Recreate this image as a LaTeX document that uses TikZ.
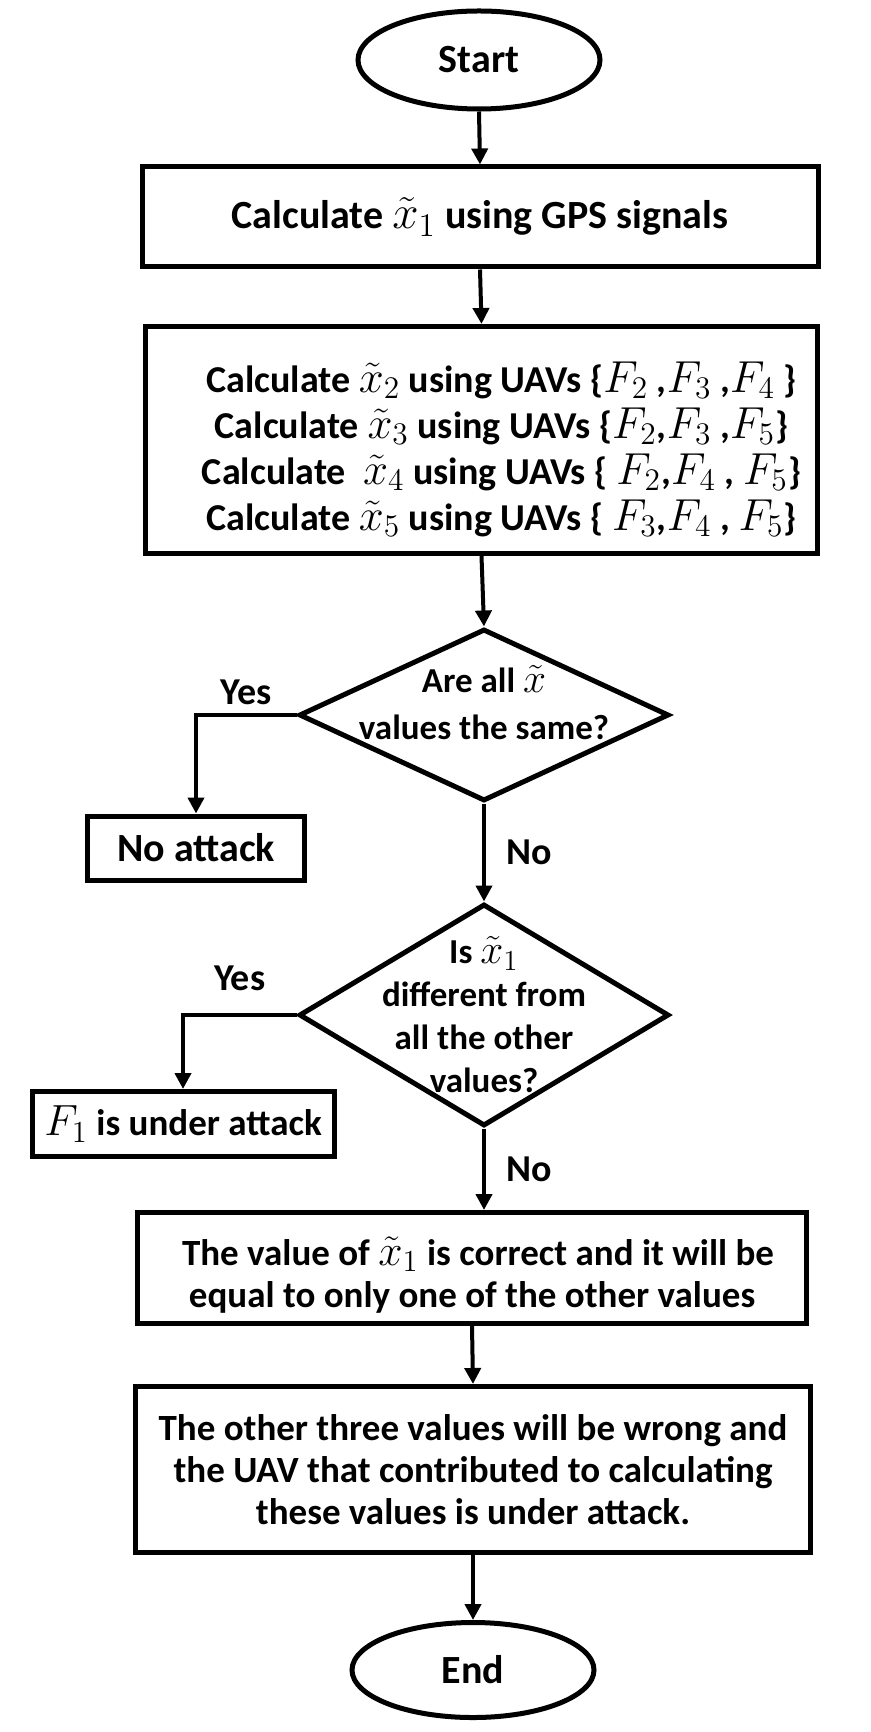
\RequirePackage{fix-cm}
\documentclass[tikz,border=0pt]{standalone}
\usepackage[no-math]{fontspec}
\usepackage{graphicx}
\setmainfont{Carlito}
\usetikzlibrary{shapes.geometric,arrows.meta,positioning}

% math in the chart is set a little larger than the words round it
\newcommand{\mvar}[1]{\scalebox{1.18}{$#1$}}

\tikzset{
    terminal/.style={ellipse, draw, line width=2.5pt, minimum width=121pt, minimum height=49pt, inner sep=0pt,
        font=\bfseries\fontsize{20}{24}\selectfont},
    stepbox/.style={rectangle, draw, line width=2.5pt, align=center, inner sep=0pt},
    decision/.style={diamond, draw, line width=2.5pt, inner sep=0pt},
    dectext/.style={align=center, font=\bfseries\fontsize{17.5}{21.5}\selectfont},
    flow/.style={->, line width=2pt},
    answer/.style={font=\bfseries\fontsize{19}{22}\selectfont, inner sep=1pt},
}

\begin{document}
\begin{tikzpicture}[x=0.5pt, y=-0.5pt, >={Triangle[length=8pt,width=8pt]},
    every node/.append style={font=\bfseries\fontsize{18.5}{21}\selectfont}]
    \useasboundingbox (0,0) rectangle (871,1732);

    % ===== Top: start and the five estimates =====
    \node[terminal] (start) at (479,60) {Start};
    \node[stepbox, minimum width=338pt, minimum height=50pt, font=\bfseries\fontsize{20}{24}\selectfont]
        (gps) at (480,217) {Calculate \mvar{\tilde{x}_1} using GPS signals};
    \node[stepbox, minimum width=336pt, minimum height=113.5pt, font=\bfseries\fontsize{19}{23}\selectfont]
        (uavs) at (481.5,440)
        {\hspace*{20pt}\raisebox{-6pt}[\height][\depth]{\begin{tabular}{@{}c@{}}
        Calculate \mvar{\tilde{x}_2} using UAVs \{\mvar{F_2} ,\mvar{F_3} ,\mvar{F_4} \}\\
        Calculate \mvar{\tilde{x}_3} using UAVs \{\mvar{F_2},\mvar{F_3} ,\mvar{F_5}\}\\
        Calculate\ \ \mvar{\tilde{x}_4} using UAVs \{ \mvar{F_2},\mvar{F_4} , \mvar{F_5}\}\\
        Calculate \mvar{\tilde{x}_5} using UAVs \{ \mvar{F_3},\mvar{F_4} , \mvar{F_5}\}
        \end{tabular}}};

    % ===== Middle: the two checks =====
    \node[decision, minimum width=185pt, minimum height=86pt,
        label={[dectext, font=\bfseries\fontsize{17.5}{23.5}\selectfont, yshift=6pt]center:Are all \mvar{\tilde{x}}\\values the same?}]
        (same) at (484,715) {};
    \node[stepbox, minimum width=108.5pt, minimum height=32pt, font=\bfseries\fontsize{20}{24}\selectfont]
        (noatk) at (196,848) {No attack};
    \node[decision, minimum width=185pt, minimum height=111pt,
        label={[dectext]center:Is \mvar{\tilde{x}_1}\\different from\\all the other\\values?}] (diff) at (484,1015) {};
    \node[stepbox, minimum width=151pt, minimum height=32.5pt] (fone) at (183,1124) {\mvar{F_1} is under attack};

    % ===== Bottom: conclusion and end =====
    \node[stepbox, minimum width=334.5pt, minimum height=55.5pt] (correct) at (472,1268)
        {\raisebox{-5pt}[\height][\depth]{\begin{tabular}{@{}c@{}}
        \hspace*{6pt}The value of \mvar{\tilde{x}_1} is correct and it will be\\
        equal to only one of the other values
        \end{tabular}}};
    \node[stepbox, minimum width=337.5pt, minimum height=83pt] (wrong) at (473,1469.5)
        {The other three values will be wrong and\\the UAV that contributed to calculating\\these values is under attack.};
    \node[terminal, minimum height=47.5pt] (stop) at (473,1670) {End};

    % ===== Connectors =====
    \draw[flow] (start.south) -- (gps.north);
    \draw[flow] (gps.south) -- (uavs.north);
    \draw[flow] (uavs.south) -- (same.north);
    \draw[flow] (same.west) -| (noatk.north) node[answer, pos=0.25, above=3pt] (yes1) {Yes};
    \draw[flow] (same.south) -- (diff.north) node[answer, midway, right=9pt] (no1) {No};
    \draw[flow] (diff.west) -| (fone.north) node[answer, pos=0.25, above=10pt] (yes2) {Yes};
    \draw[flow] (diff.south) -- (diff.south |- correct.north) node[answer, midway, right=9pt] (no2) {No};
    \draw[flow] (correct.south) -- (wrong.north);
    \draw[flow] (wrong.south) -- (stop.north);
\end{tikzpicture}
\end{document}
